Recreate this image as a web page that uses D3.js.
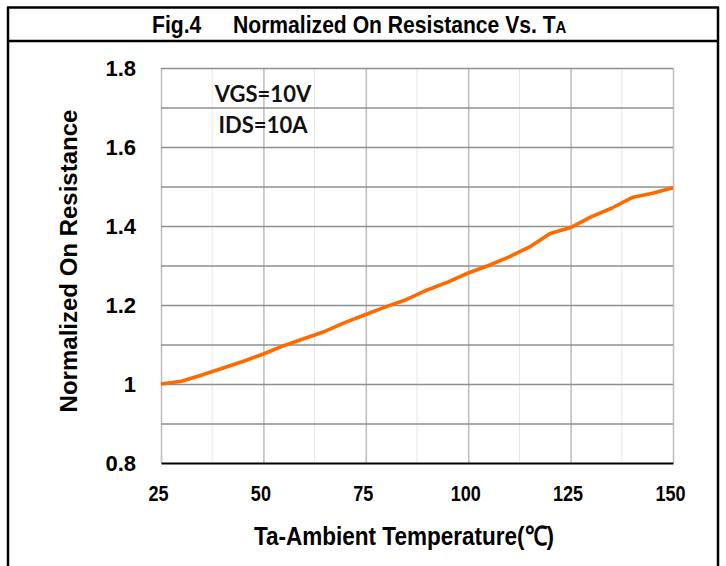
<!DOCTYPE html>
<html>
<head>
<meta charset="utf-8">
<script src="https://cdn.jsdelivr.net/npm/d3@7"></script>
<style>
  body { margin: 0; background: #fff; }
  .bold { font-family: "Liberation Sans", Arial, sans-serif; font-weight: bold; }
</style>
</head>
<body>
<div id="chart"></div>
<script>
// temperature (°C) and normalized on-resistance
const temps = [25, 30, 35, 40, 45, 50, 55, 60, 65, 70, 75, 80, 85, 90, 95, 100, 105, 110, 115, 120, 125, 130, 135, 140, 145, 150];
const resist = [1.000, 1.007, 1.023, 1.040, 1.057, 1.076, 1.097, 1.115, 1.133, 1.156, 1.176, 1.196, 1.214, 1.238, 1.258, 1.281, 1.300, 1.322, 1.347, 1.381, 1.396, 1.423, 1.445, 1.472, 1.483, 1.497];
const xTicks = [25, 50, 75, 100, 125, 150];
const xMinorGrid = [37.5, 62.5, 87.5, 112.5, 137.5];
const yTicks = [0.8, 1, 1.2, 1.4, 1.6, 1.8];
const yGrid = [0.9, 1, 1.1, 1.2, 1.3, 1.4, 1.5, 1.6, 1.7, 1.8];
const notes = ["VGS=10V", "IDS=10A"];

const width = 726, height = 566;
const plotLeft = 161, plotRight = 673, plotTop = 68, plotBottom = 463;
const narrow = 0.82; // no Arial Narrow installed, squeeze Arial bold instead

const x = d3.scaleLinear().domain([25, 150]).range([plotLeft, plotRight]);
const y = d3.scaleLinear().domain([0.8, 1.8]).range([plotBottom, plotTop]);

const svg = d3.select('#chart').append('svg')
    .attr('width', width)
    .attr('height', height);

// frame
svg.append('line').attr('x1', 8).attr('x2', 8).attr('y1', 7).attr('y2', height)
    .attr('stroke', '#000').attr('stroke-width', 2.5);
svg.append('line').attr('x1', 718).attr('x2', 718).attr('y1', 7).attr('y2', height)
    .attr('stroke', '#000').attr('stroke-width', 2.5);
svg.append('line').attr('x1', 7).attr('x2', 719).attr('y1', 7.5).attr('y2', 7.5)
    .attr('stroke', '#000').attr('stroke-width', 2.5);
svg.append('line').attr('x1', 7).attr('x2', 719).attr('y1', 41).attr('y2', 41)
    .attr('stroke', '#000').attr('stroke-width', 2.5);

// title
let title = svg.append('text')
    .attr('class', 'bold')
    .attr('transform', 'translate(152, 33) scale(0.88, 1)')
    .attr('font-size', 24);
title.append('tspan').attr('x', 0).text('Fig.4');
title.append('tspan').attr('x', (233 - 152) / 0.88).text('Normalized On Resistance Vs. T');
title.append('tspan').attr('font-size', 17).text('A');

// minor vertical grid
svg.append('g')
    .selectAll('line')
    .data(xMinorGrid)
    .enter()
        .append('line')
            .attr('x1', (d) => x(d)).attr('x2', (d) => x(d))
            .attr('y1', plotTop).attr('y2', plotBottom)
            .attr('stroke', '#e6e6e6').attr('stroke-width', 1);

// major vertical grid
svg.append('g')
    .attr('transform', `translate(0, ${plotBottom})`)
    .call(d3.axisBottom(x).tickValues(xTicks).tickSize(-(plotBottom - plotTop)).tickFormat(''))
    .call(g => g.select('.domain').remove())
    .call(g => g.selectAll('line').attr('stroke', '#c0c0c0').attr('stroke-width', 1.6));

// horizontal grid
svg.append('g')
    .attr('transform', `translate(${plotLeft}, 0)`)
    .call(d3.axisLeft(y).tickValues(yGrid).tickSize(-(plotRight - plotLeft)).tickFormat(''))
    .call(g => g.select('.domain').remove())
    .call(g => g.selectAll('line').attr('stroke', '#8f8f8f').attr('stroke-width', 1.6));

// y axis labels
svg.append('g')
    .attr('transform', `translate(${plotLeft}, 0)`)
    .call(d3.axisLeft(y).tickValues(yTicks).tickSize(0).tickPadding(25).tickFormat(d3.format('')))
    .call(g => g.select('.domain').remove())
    .call(g => g.selectAll('text')
        .attr('class', 'bold')
        .attr('font-size', 22)
        .attr('fill', '#000'));

// x axis
svg.append('g')
    .attr('transform', `translate(0, ${plotBottom})`)
    .call(d3.axisBottom(x).tickValues(xTicks).tickSize(0).tickPadding(22))
    .call(g => g.select('.domain').attr('stroke', '#000').attr('stroke-width', 2.2))
    .call(g => g.selectAll('text')
        .attr('class', 'bold')
        .attr('font-size', 22)
        .attr('x', -3 / narrow)
        .attr('transform', `scale(${narrow}, 1)`)
        .attr('fill', '#000'));

// curve
const line = d3.line()
    .x((d, i) => x(temps[i]))
    .y((d) => y(d));

svg.append('path')
    .datum(resist)
    .attr('d', line)
    .attr('fill', 'none')
    .attr('stroke', '#ff6a00')
    .attr('stroke-width', 3.6)
    .attr('stroke-linejoin', 'round');

// condition notes
svg.append('g')
    .selectAll('text')
    .data(notes)
    .enter()
        .append('text')
            .attr('x', 263)
            .attr('y', (d, i) => 102 + i * 31)
            .attr('text-anchor', 'middle')
            .attr('font-family', 'Lato, "Open Sans", sans-serif')
            .attr('font-weight', 'bold')
            .attr('font-size', 22)
            .attr('fill', '#111')
            .text((d) => d);

// axis titles
svg.append('text')
    .attr('class', 'bold')
    .attr('transform', `translate(404, 545) scale(0.85, 1)`)
    .attr('text-anchor', 'middle')
    .attr('font-size', 26.5)
    .text('Ta-Ambient Temperature(℃)');

svg.append('text')
    .attr('class', 'bold')
    .attr('transform', 'translate(77, 261) rotate(-90)')
    .attr('text-anchor', 'middle')
    .attr('font-size', 24)
    .text('Normalized On Resistance');
</script>
</body>
</html>
